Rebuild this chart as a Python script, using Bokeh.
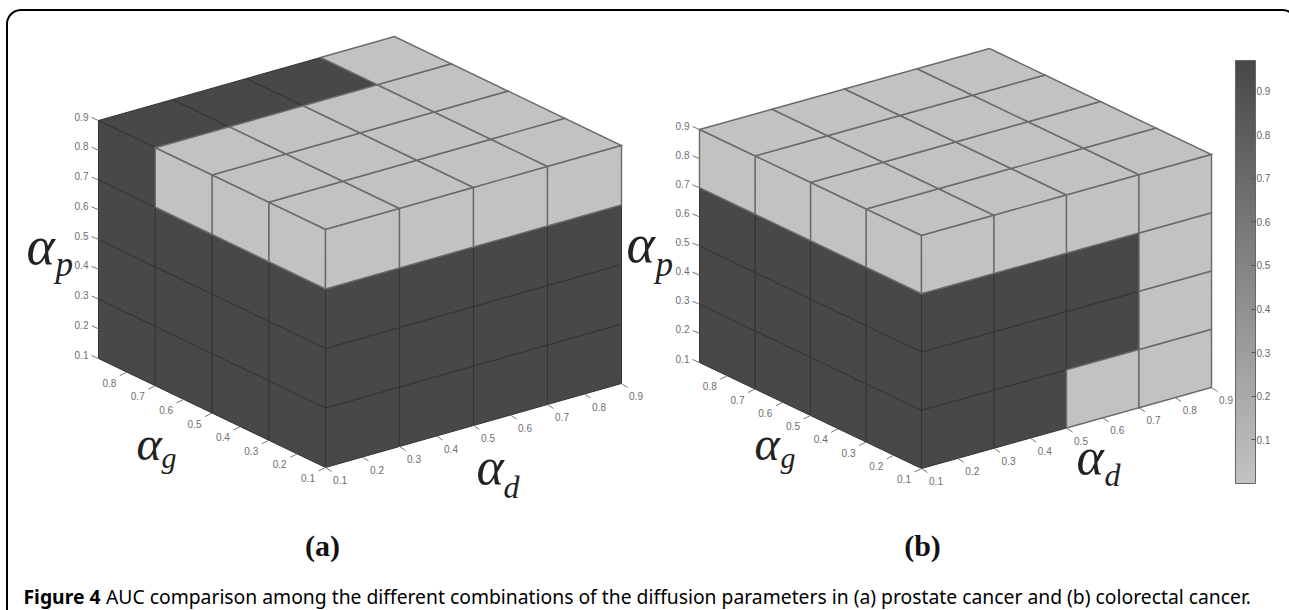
import numpy as np
from bokeh.plotting import figure
from bokeh.embed import file_html
from bokeh.resources import INLINE
from bokeh.core.properties import value
from bokeh.models import ColumnDataSource, Range1d, LinearColorMapper, ColorBar, FixedTicker

# ---- data -------------------------------------------------------------
PARAM_TICKS = [0.1, 0.3, 0.5, 0.7, 0.9]          # grid boundaries of the cells
D_LABELS = [0.1, 0.2, 0.3, 0.4, 0.5, 0.6, 0.7, 0.8, 0.9]
G_LABELS = [0.1, 0.2, 0.3, 0.4, 0.5, 0.6, 0.7, 0.8]
P_LABELS = [0.1, 0.2, 0.3, 0.4, 0.5, 0.6, 0.7, 0.8, 0.9]
HI = 0.97
LO = 0.01
# top faces: rows g low -> high, columns d low -> high
A_TOP = [[LO, LO, LO, LO], [LO, LO, LO, LO], [LO, LO, LO, LO], [HI, HI, HI, LO]]
B_TOP = [[LO, LO, LO, LO], [LO, LO, LO, LO], [LO, LO, LO, LO], [LO, LO, LO, LO]]
# left faces: rows p low -> high, columns g low -> high
A_LEFT = [[HI, HI, HI, HI], [HI, HI, HI, HI], [HI, HI, HI, HI], [LO, LO, LO, HI]]
B_LEFT = [[HI, HI, HI, HI], [HI, HI, HI, HI], [HI, HI, HI, HI], [LO, LO, LO, LO]]
# right faces: rows p low -> high, columns d low -> high
A_RIGHT = [[HI, HI, HI, HI], [HI, HI, HI, HI], [HI, HI, HI, HI], [LO, LO, LO, LO]]
B_RIGHT = [[HI, HI, LO, LO], [HI, HI, HI, LO], [HI, HI, HI, LO], [LO, LO, LO, LO]]
CB_LOW, CB_HIGH = 0.0, 0.97
CB_TICKS = [0.1, 0.2, 0.3, 0.4, 0.5, 0.6, 0.7, 0.8, 0.9]
CAPTION_BOLD = "Figure 4"
CAPTION_REST = "AUC comparison among the different combinations of the diffusion parameters in (a) prostate cancer and (b) colorectal cancer."

# ---- layout ------------------------------------------------------------
W, H = 1289, 610
PANEL_A = dict(front=(325, 467), left=(98, 358), right=(621, 383), h=238)
PANEL_B = dict(front=(921, 468), left=(699, 362), right=(1211, 387), h=233)
palette = ["#%02x%02x%02x" % tuple(int(round(a + (b - a) * t)) for a, b in zip((0xc3,) * 3, (0x48,) * 3))
           for t in np.linspace(0, 1, 256)]
mapper = LinearColorMapper(palette=palette, low=CB_LOW, high=CB_HIGH)

p = figure(width=W, height=H, x_range=Range1d(0, W), y_range=Range1d(H, 0),
           output_backend="svg", toolbar_location=None, min_border=0,
           margin=(0, 0, 0, 0), outline_line_color=None, background_fill_color="white")
p.xaxis.visible = False
p.yaxis.visible = False
p.grid.visible = False


def proj(pn, d, g, z):
    fx, fy = pn["front"]
    lx, ly = pn["left"]
    rx, ry = pn["right"]
    u, v, w = (d - 0.1) / 0.8, (g - 0.1) / 0.8, (z - 0.1) / 0.8
    return fx + u * (rx - fx) + v * (lx - fx), fy + u * (ry - fy) + v * (ly - fy) - w * pn["h"]


def draw_panel(pn, top, left, right):
    xs, ys, vals = [], [], []
    t = PARAM_TICKS

    def add(corners, val):
        pts = [proj(pn, *c) for c in corners]
        xs.append([q[0] for q in pts])
        ys.append([q[1] for q in pts])
        vals.append(val)

    for i in range(4):
        for j in range(4):
            add([(t[j], t[i], 0.9), (t[j + 1], t[i], 0.9), (t[j + 1], t[i + 1], 0.9), (t[j], t[i + 1], 0.9)], top[i][j])
            add([(0.1, t[j], t[i]), (0.1, t[j + 1], t[i]), (0.1, t[j + 1], t[i + 1]), (0.1, t[j], t[i + 1])], left[i][j])
            add([(t[j], 0.1, t[i]), (t[j + 1], 0.1, t[i]), (t[j + 1], 0.1, t[i + 1]), (t[j], 0.1, t[i + 1])], right[i][j])
    order = np.argsort(-np.array(vals), kind="stable")
    xs = [xs[k] for k in order]
    ys = [ys[k] for k in order]
    vals = [vals[k] for k in order]
    lc = ["#333333" if v > 0.5 else "#6a6a6a" for v in vals]
    lw = [1.0 if v > 0.5 else 1.4 for v in vals]
    p.patches("xs", "ys", source=ColumnDataSource(dict(xs=xs, ys=ys, v=vals, lc=lc, lw=lw)),
              fill_color={"field": "v", "transform": mapper}, line_color="lc", line_width="lw", line_join="miter")

    # axes ticks and labels
    tx0, ty0, tx1, ty1, lx_, ly_, txt = [], [], [], [], [], [], []
    for val in P_LABELS:
        x, y = proj(pn, 0.1, 0.9, val)
        tx0.append(x); ty0.append(y); tx1.append(x - 7); ty1.append(y - 3)
        lx_.append(x - 17); ly_.append(y - 4); txt.append(f"{val:.1f}")
    for val in G_LABELS:
        x, y = proj(pn, 0.1, val, 0.1)
        tx0.append(x); ty0.append(y); tx1.append(x - 7); ty1.append(y + 3.5)
        lx_.append(x - 17.5); ly_.append(y + 10.5); txt.append(f"{val:.1f}")
    for val in D_LABELS:
        x, y = proj(pn, val, 0.1, 0.1)
        tx0.append(x); ty0.append(y); tx1.append(x + 6); ty1.append(y + 4)
        lx_.append(x + 14.5); ly_.append(y + 12.5); txt.append(f"{val:.1f}")
    p.segment(tx0, ty0, tx1, ty1, line_color="#777777", line_width=1)
    p.text(lx_, ly_, text=txt, text_font=value("Liberation Sans"), text_font_size="10px",
           text_color="#6e6e6e", text_align="center", text_baseline="middle")


draw_panel(PANEL_A, A_TOP, A_LEFT, A_RIGHT)
draw_panel(PANEL_B, B_TOP, B_LEFT, B_RIGHT)

SHIFT = 0.32  # alphabetic placement sits this many ems low in the rendered page


def sym(x, y, s, size):
    p.text([x], [y - SHIFT * size], text=[s], text_font=value("Liberation Serif"), text_font_style="italic",
           text_font_size=f"{size}px", text_color="#222222", text_align="left", text_baseline="alphabetic")


for (ax, ay, sx, sy, s, s1, s2) in [
    (26, 263, 55, 275, "p", 54, 35),
    (136, 458, 161, 467, "g", 48, 30),
    (476, 483, 503, 497, "d", 52, 32),
    (626, 261, 655, 275, "p", 54, 35),
    (754, 458, 780, 467, "g", 48, 30),
    (1076, 473, 1104, 485, "d", 52, 32),
]:
    sym(ax, ay, "\u03b1", s1)
    sym(sx, sy, s, s2)

for x, s in [(322, "(a)"), (922, "(b)")]:
    p.text([x], [555 - SHIFT * 30], text=[s], text_font=value("Liberation Serif"), text_font_style="bold",
           text_font_size="30px", text_color="#111111", text_align="center", text_baseline="alphabetic")

# caption
CAP = 19.32
p.text([23], [602 - SHIFT * CAP], text=[CAPTION_BOLD], text_font=value("Noto Sans"), text_font_style="bold",
       text_font_size=f"{CAP}px", text_color="black", text_baseline="alphabetic")
p.text([105.5], [602 - SHIFT * CAP], text=[CAPTION_REST], text_font=value("Noto Sans"), text_font_style="normal",
       text_font_size=f"{CAP}px", text_color="black", text_baseline="alphabetic")

# rounded frame, cut by the window at right and bottom
r = 14
x0, y0, x1 = 6.5, 9.5, 1296
a = np.linspace(np.pi, 1.5 * np.pi, 12)
fx = [x0] + list(x0 + r + r * np.cos(a))
fy = [H + 5] + list(y0 + r + r * np.sin(a))
b = np.linspace(1.5 * np.pi, 2 * np.pi, 12)
fx += list(x1 - r + r * np.cos(b))
fy += list(y0 + r + r * np.sin(b))
p.line(fx, fy, line_color="black", line_width=2)

# colour bar
CB_LEFT, CB_RIGHT, CB_TOP, CB_BOTTOM = 1235, 1255, 60, 483
cb = ColorBar(color_mapper=mapper, ticker=FixedTicker(ticks=CB_TICKS), location=(CB_LEFT, H - CB_BOTTOM),
              width=CB_RIGHT - CB_LEFT, height=CB_BOTTOM - CB_TOP, padding=0, margin=0, scale_alpha=1,
              major_tick_in=4, major_tick_out=0, major_tick_line_color="#555555",
              minor_tick_line_color=None, bar_line_color="#666666", bar_line_width=1,
              major_label_text_font="Liberation Sans", major_label_text_font_size="10px",
              major_label_text_color="#666666", label_standoff=1, background_fill_alpha=0,
              border_line_color=None)
p.add_layout(cb, "center")
cy = [CB_BOTTOM - (v - CB_LOW) / (CB_HIGH - CB_LOW) * (CB_BOTTOM - CB_TOP) for v in CB_TICKS]
p.segment([CB_LEFT] * len(cy), cy, [CB_LEFT + 4] * len(cy), cy, line_color="#555555", line_width=1)

open("out.html", "w").write(file_html(p, INLINE))
